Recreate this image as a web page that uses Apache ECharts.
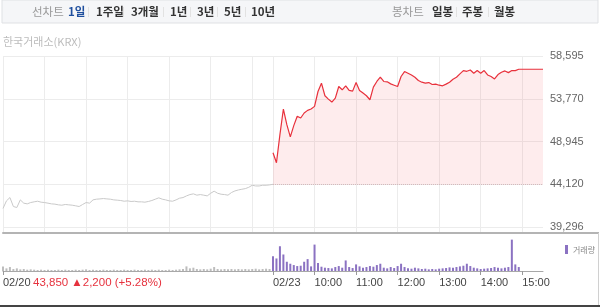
<!DOCTYPE html>
<html><head><meta charset="utf-8">
<script src="https://cdn.jsdelivr.net/npm/echarts@6/dist/echarts.min.js"></script>
<style>html,body{margin:0;padding:0;background:#fff}#c{width:600px;height:308px}</style>
</head><body><div id="c"></div>
<script>
// ---- data (5-minute samples) ----
const prevDayPrice = [41390,42250,42620,41610,41500,42360,41990,41910,42060,42140,
 42210,42100,42060,41990,41910,41880,41800,41760,41840,41800,
 41760,41690,41610,41840,42060,41990,42360,42440,42470,42510,
 42470,42440,42360,42330,42290,42210,42250,42180,42210,42140,
 42140,42100,42180,42290,42440,42590,42440,42360,42250,42210,
 42360,42550,42620,42810,42960,43040,42890,42960,42890,42810,
 43110,43340,43110,43000,42960,42890,43190,43370,43480,43560,
 43630,43780,44010,43930,43930,44010,44010,44050,44120];
const todayPrice = [47670,46550,49730,52610,50850,49470,50740,51790,51600,52160,
 52460,52610,52910,54590,55530,54110,53730,53400,53850,55150,
 54780,55230,54710,54630,55600,54710,54410,54110,53660,55080,
 55720,56200,55720,55680,55450,55300,55150,56280,56840,56650,
 56460,56200,55830,55640,55530,55600,55380,55420,55300,55230,
 55420,55640,55980,56200,56580,56950,56870,57020,56650,56950,
 56650,56950,56460,56280,56010,56500,56760,56910,56720,56950,
 56950,57100,57100,57100,57100,57100,57100,57100,57100];
const prevDayVolume = [14,8,12,6,8,5,6,4,5,4,
 3,4,3,4,3,3,4,3,4,3,
 3,4,3,4,5,3,4,3,3,4,
 3,3,4,3,3,4,3,3,4,3,
 3,4,3,4,3,4,3,3,4,3,
 4,5,6,14,8,10,6,5,6,5,
 7,12,6,5,6,5,6,5,6,5,
 6,5,6,7,5,6,7,6];
const todayVolume = [45,38,75,50,28,22,18,15,16,28,
 36,14,80,24,13,10,9,8,12,15,
 10,32,12,9,20,14,10,12,15,13,
 18,22,10,8,12,9,15,22,12,8,
 7,10,8,6,7,5,6,5,7,8,
 9,11,10,12,14,16,22,15,10,8,
 6,7,8,9,12,10,8,10,12,95,
 20,12,null,null,null,null,null,null];
const yTickValues = [39296, 44120, 48945, 53770, 58595];
const yTickLabels = ['39,296', '44,120', '48,945', '53,770', '58,595'];
const xTickCats = ['02/20 09:00','02/23 09:00','02/23 10:00','02/23 11:00','02/23 12:00','02/23 13:00','02/23 14:00','02/23 15:00'];
const xTickLabels = ['02/20','02/23','10:00','11:00','12:00','13:00','14:00','15:00'];
const gridCats = ['02/20 09:00','02/20 10:00','02/20 11:00','02/20 12:00','02/20 13:00','02/20 14:00','02/20 15:00',
 '02/23 09:00','02/23 10:00','02/23 11:00','02/23 12:00','02/23 13:00','02/23 14:00','02/23 15:00'];
const baseLine = 44120;
const infoText = '43,850 ▲2,200 (+5.28%)';
const sourceText = '한국거래소(KRX)';

// ---- categories (time of each sample) ----
function hhmm(m){const h=9+Math.floor(m/60), mm=m%60;return (h<10?'0':'')+h+':'+(mm<10?'0':'')+mm;}
const categories = [];
for (let m = 0; m < 390; m += 5) categories.push('02/20 ' + hhmm(m));
for (let m = 0; m <= 390; m += 5) categories.push('02/23 ' + hhmm(m));
const N = categories.length;
const pad = (arr, before) => { const out = new Array(before).fill(null).concat(arr); while (out.length < N) out.push(null); return out; };

const FONT = '"Liberation Sans", Arial, sans-serif';
const KFONT = '"Noto Sans CJK KR", "Liberation Sans", sans-serif';

const chart = echarts.init(document.getElementById('c'), null, {renderer: 'canvas'});

// top tab texts
const tabs = [
 ['선차트', 32, '#999', 'normal'], ['1일', 68, '#1f4f9e', 'bold'], ['1주일', 96, '#333', 'bold'],
 ['3개월', 131, '#333', 'bold'], ['1년', 170, '#333', 'bold'], ['3년', 197, '#333', 'bold'],
 ['5년', 224, '#333', 'bold'], ['10년', 251, '#333', 'bold'],
 ['봉차트', 392, '#999', 'normal'], ['일봉', 432, '#333', 'bold'], ['주봉', 462, '#333', 'bold'], ['월봉', 494, '#333', 'bold']
];
const seps = [88, 123, 163, 190, 217, 245, 456, 488];
const graphics = [
 {type: 'rect', shape: {x: 2, y: 0, width: 596, height: 23}, style: {fill: '#f5f6f8', stroke: '#dfe1e4', lineWidth: 1}, silent: true, z: -1},
];
tabs.forEach(t => graphics.push({type: 'text', x: t[1], y: 12, style: {text: t[0], fill: t[2], font: t[3] + ' 11.5px ' + KFONT, verticalAlign: 'middle'}, silent: true}));
seps.forEach(x => graphics.push({type: 'rect', shape: {x: x, y: 7, width: 1, height: 10}, style: {fill: '#e2e2e2'}, silent: true}));
graphics.push({type: 'text', x: 3, y: 42, style: {text: sourceText, fill: '#bcbcbc', font: '11px ' + KFONT, verticalAlign: 'middle'}, silent: true});
graphics.push({type: 'text', x: 33, y: 283, style: {text: infoText, fill: '#e6323e', font: '11.5px ' + FONT, verticalAlign: 'middle'}, silent: true});
graphics.push({type: 'rect', shape: {x: 543, y: 232, width: 56, height: 2}, style: {fill: '#b4b4b4'}, silent: true});
graphics.push({type: 'rect', shape: {x: 598, y: 233, width: 1, height: 73}, style: {fill: '#d0d0d0'}, silent: true});
graphics.push({type: 'rect', shape: {x: 0, y: 305, width: 600, height: 2}, style: {fill: '#444'}, silent: true});

chart.setOption({
 animation: false,
 graphic: graphics,
 legend: {
  data: [{name: '거래량'}], left: 560, top: 240, icon: 'rect', itemWidth: 3, itemHeight: 9, itemGap: 2,
  textStyle: {color: '#888', fontSize: 8, fontFamily: KFONT, padding: [0,0,0,0]}, selectedMode: false
 },
 grid: [
  {left: 3, right: 57, top: 56, bottom: 75},
  {left: 3, right: 57, top: 236, bottom: 37}
 ],
 xAxis: [
  {type: 'category', gridIndex: 0, data: categories, boundaryGap: false,
   axisLine: {lineStyle: {color: '#b4b4b4', width: 2}}, axisTick: {show: false}, axisLabel: {show: false},
   splitLine: {show: true, interval: (i, v) => gridCats.includes(v), lineStyle: {color: '#ececec', width: 1}}},
  {type: 'category', gridIndex: 1, data: categories, boundaryGap: false,
   axisLine: {lineStyle: {color: '#a8a8a8', width: 1}},
   axisTick: {show: true, interval: (i, v) => xTickCats.includes(v), length: 4, lineStyle: {color: '#999'}},
   axisLabel: {interval: (i, v) => xTickCats.includes(v), formatter: v => xTickLabels[xTickCats.indexOf(v)] || '',
    align: 'left', color: '#444', fontSize: 11, fontFamily: FONT, margin: 6},
   splitLine: {show: false}}
 ],
 yAxis: [
  {type: 'value', gridIndex: 0, position: 'right', min: 38623, max: 58595,
   axisLine: {show: false},
   axisTick: {show: false, customValues: yTickValues},
   axisLabel: {customValues: yTickValues, formatter: v => yTickLabels[yTickValues.indexOf(v)] || '', color: '#666', fontSize: 11, fontFamily: FONT, margin: 7},
   splitLine: {show: true, lineStyle: {color: '#ececec'}}},
  {type: 'value', gridIndex: 1, min: 0, max: 106, show: false, splitLine: {show: false}}
 ],
 series: [
  {type: 'line', name: 'prev', xAxisIndex: 0, yAxisIndex: 0, data: pad(prevDayPrice, 0), symbol: 'none',
   lineStyle: {color: '#c9c9c9', width: 1}, silent: true},
  {type: 'line', name: 'today', xAxisIndex: 0, yAxisIndex: 0, data: pad(todayPrice, 78), symbol: 'none',
   lineStyle: {color: '#e8313c', width: 1.2},
   areaStyle: {color: 'rgba(245,120,130,0.2)', origin: baseLine}, silent: true,
   markLine: {silent: true, symbol: 'none', label: {show: false},
    lineStyle: {color: '#d6b8bb', type: 'dotted', width: 1},
    data: [[{xAxis: categories[78], yAxis: baseLine}, {xAxis: categories[N - 1], yAxis: baseLine}]]}},
  {type: 'bar', name: 'prevVol', xAxisIndex: 1, yAxisIndex: 1, data: pad(prevDayVolume, 0), barWidth: 2, barGap: '-100%',
   itemStyle: {color: '#bdbdbd'}, silent: true},
  {type: 'bar', name: '거래량', xAxisIndex: 1, yAxisIndex: 1, data: pad(todayVolume, 78), barWidth: 2, barGap: '-100%',
   itemStyle: {color: '#8b72c2'}, silent: true}
 ]
});
</script>
</body></html>
